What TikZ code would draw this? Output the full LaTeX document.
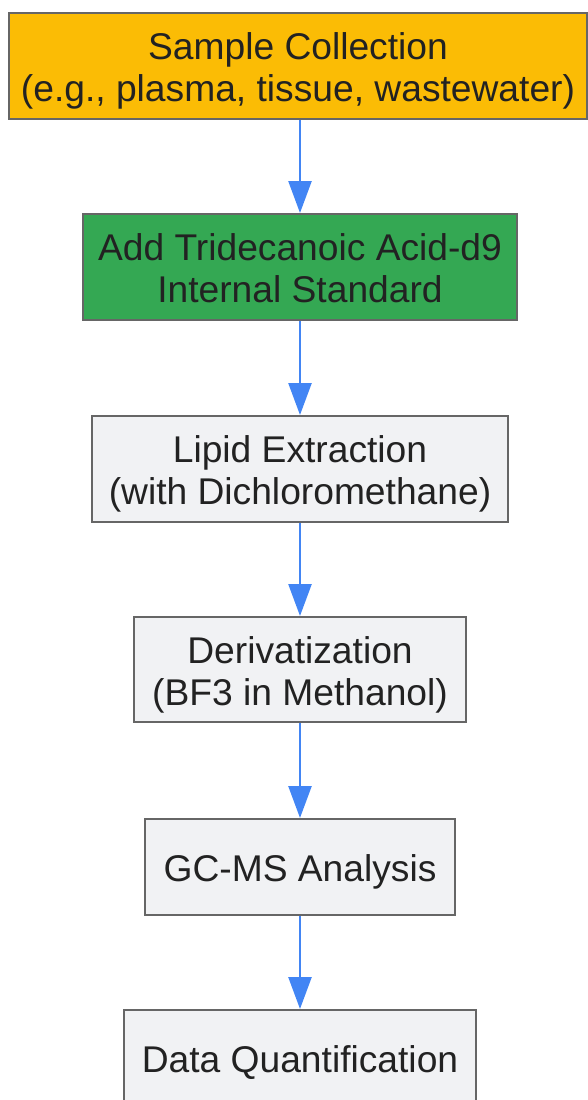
\documentclass[tikz,border=0pt]{standalone}
\usepackage{fontspec}
\setmainfont{Liberation Sans}
\usetikzlibrary{arrows.meta}

\definecolor{stepgold}{HTML}{FBBC05}
\definecolor{stepgreen}{HTML}{34A853}
\definecolor{stepgrey}{HTML}{F1F2F4}
\definecolor{stepedge}{HTML}{666666}
\definecolor{steptext}{HTML}{222222}
\definecolor{flowblue}{HTML}{4285F4}

\begin{document}
\begin{tikzpicture}[x=1pt,y=-1pt,
	stepbox/.style={draw=stepedge, line width=2pt, fill=stepgrey, text=steptext, align=center,
		inner sep=0pt, text height=29pt, text depth=0pt, font=\fontsize{37.2}{42}\selectfont},
	twoline/.style={text height=71pt},
	flow/.style={draw=flowblue, line width=2.5pt, -{Triangle[length=32pt,width=23pt]}}]
					\useasboundingbox (0,0) rectangle (588,1100);

					% the six steps, top to bottom
					\node[stepbox, twoline, fill=stepgold, minimum width=578pt, minimum height=106pt] (collect) at (298,66)
						{Sample Collection\\(e.g., plasma, tissue, wastewater)};
					\node[stepbox, twoline, fill=stepgreen, minimum width=434pt, minimum height=106pt] (spike) at (300,267)
						{Add Tridecanoic Acid-d9\\Internal Standard};
					\node[stepbox, twoline, minimum width=416pt, minimum height=106pt] (extract) at (300,469)
						{Lipid Extraction\\(with Dichloromethane)};
					\node[stepbox, twoline, minimum width=332pt, minimum height=105pt] (deriv) at (300,669.5)
						{Derivatization\\(BF3 in Methanol)};
					\node[stepbox, minimum width=310pt, minimum height=96pt] (gcms) at (300,867)
						{GC-MS Analysis};
					\node[stepbox, minimum width=352pt, minimum height=96pt] (quant) at (300,1058)
						{Data Quantification};

					% arrows between steps
					\draw[flow] (collect.south -| spike.north) -- (spike.north);
					\draw[flow] (spike) -- (extract);
					\draw[flow] (extract) -- (deriv);
					\draw[flow] (deriv) -- (gcms);
					\draw[flow] (gcms) -- (quant);
\end{tikzpicture}
\end{document}
